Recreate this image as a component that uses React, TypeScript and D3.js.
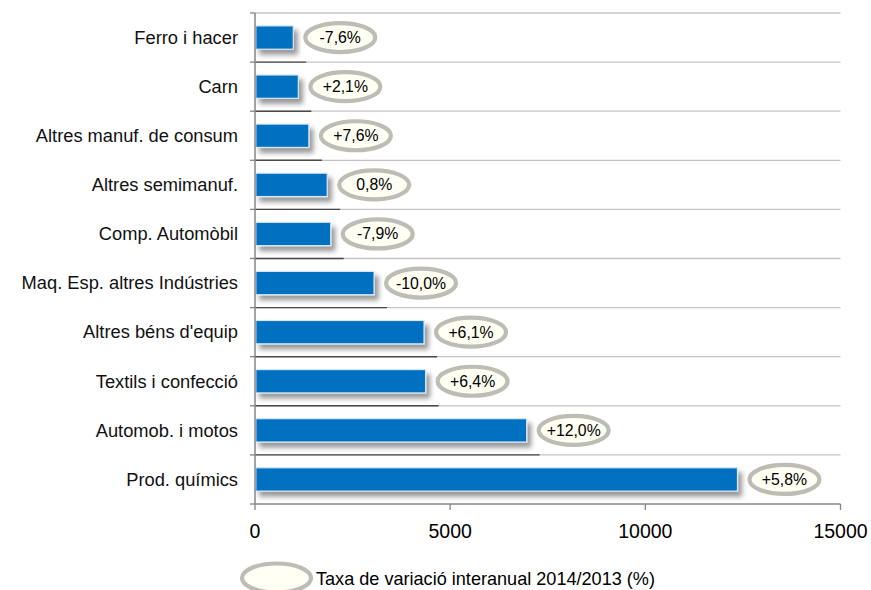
import React from "react";
import * as d3 from "d3";

const categories = [
  "Ferro i hacer",
  "Carn",
  "Altres manuf. de consum",
  "Altres semimanuf.",
  "Comp. Automòbil",
  "Maq. Esp. altres Indústries",
  "Altres béns d'equip",
  "Textils i confecció",
  "Automob. i motos",
  "Prod. químics",
];
const values = [980, 1110, 1380, 1850, 1940, 3050, 4330, 4370, 6960, 12360];
const rateLabels = ["-7,6%", "+2,1%", "+7,6%", "0,8%", "-7,9%", "-10,0%", "+6,1%", "+6,4%", "+12,0%", "+5,8%"];
const xTicks = [0, 5000, 10000, 15000];
const legendLabel = "Taxa de variació interanual 2014/2013 (%)";

const W = 871;
const H = 590;
const M = { left: 255, right: 840.5, top: 13, bottom: 504 };
const FONT = "'Liberation Sans', Arial, Helvetica, sans-serif";

export default function App() {
  const x = d3.scaleLinear().domain([0, 15000]).range([M.left, M.right]);
  const y = d3
    .scaleBand<string>()
    .domain(categories)
    .range([M.top, M.bottom])
    .paddingInner(0.525)
    .paddingOuter(0.2625);
  const step = y.step();
  const bandTop = (c: string) => M.top + categories.indexOf(c) * step;
  const boundaries = d3.range(categories.length + 1).map((i) => M.top + i * step);

  return (
    <svg width={W} height={H} style={{ position: "absolute", left: 0, top: 0, background: "#fff" }}>
      <defs>
        <filter id="shadow" x="-10%" y="-40%" width="130%" height="200%">
          <feDropShadow dx="4" dy="5" stdDeviation="2.6" floodColor="#000" floodOpacity="0.4" />
        </filter>
      </defs>
      {/* gridlines */}
      {boundaries.slice(0, -1).map((b, i) => (
        <line key={"g" + i} x1={M.left} x2={M.right} y1={b} y2={b} stroke="#c4c4c4" strokeWidth={1.3} />
      ))}
      {/* dark shadow edges under bars */}
      {categories.slice(0, -1).map((c, i) => (
        <line
          key={"d" + i}
          x1={M.left}
          x2={x(values[i]) + 13}
          y1={bandTop(c) + step}
          y2={bandTop(c) + step}
          stroke="#4a4a4a"
          strokeWidth={1.4}
        />
      ))}
      {/* bars */}
      {categories.map((c, i) => (
        <rect
          key={"b" + i}
          x={x(0) + 0.8}
          y={y(c)}
          width={x(values[i]) - x(0) - 0.8}
          height={y.bandwidth()}
          fill="#0070c0"
          stroke="#d6e6f4"
          strokeWidth={1.2}
          filter="url(#shadow)"
        />
      ))}
      {/* y axis */}
      <line x1={M.left} x2={M.left} y1={M.top} y2={M.bottom} stroke="#868686" strokeWidth={1.5} />
      {boundaries.map((b, i) => (
        <line key={"yt" + i} x1={M.left - 5} x2={M.left} y1={b} y2={b} stroke="#868686" strokeWidth={1.3} />
      ))}
      {/* x axis */}
      <line x1={M.left} x2={M.right} y1={M.bottom} y2={M.bottom} stroke="#868686" strokeWidth={1.5} />
      {xTicks.map((t) => (
        <g key={"xt" + t}>
          <line x1={x(t)} x2={x(t)} y1={M.bottom} y2={M.bottom + 6} stroke="#868686" strokeWidth={1.3} />
          <text x={x(t)} y={538} textAnchor="middle" fontFamily={FONT} fontSize={19.5} fill="#000">
            {t}
          </text>
        </g>
      ))}
      {/* category labels */}
      {categories.map((c) => (
        <text
          key={"c" + c}
          x={238}
          y={y(c)! + y.bandwidth() / 2 + 6.3}
          textAnchor="end"
          fontFamily={FONT}
          fontSize={18.3}
          fill="#111"
        >
          {c}
        </text>
      ))}
      {/* rate ellipses */}
      {categories.map((c, i) => {
        const cx = x(values[i]) + 47;
        const cy = y(c)! + y.bandwidth() / 2;
        return (
          <g key={"e" + i}>
            <ellipse cx={cx} cy={cy} rx={35} ry={14.5} fill="#fffff4" stroke="#bdbdb5" strokeWidth={4.2} />
            <text x={cx} y={cy + 5.5} textAnchor="middle" fontFamily={FONT} fontSize={15.8} fill="#000">
              {rateLabels[i]}
            </text>
          </g>
        );
      })}
      {/* legend */}
      <ellipse cx={276.5} cy={578} rx={34.5} ry={14.5} fill="#fffff4" stroke="#bdbdb5" strokeWidth={4.2} />
      <text x={316} y={585} fontFamily={FONT} fontSize={18.1} fill="#000">
        {legendLabel}
      </text>
    </svg>
  );
}
